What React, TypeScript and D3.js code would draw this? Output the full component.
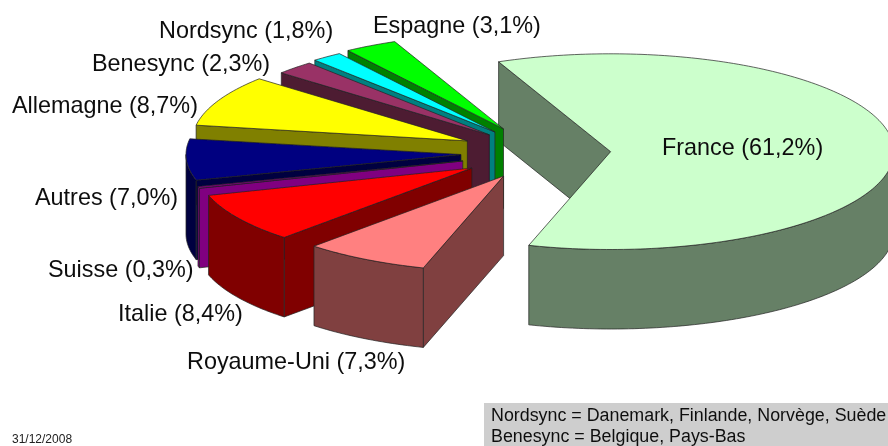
import React from "react";
import * as d3 from "d3";

const categories = ["France", "Royaume-Uni", "Italie", "Suisse", "Autres", "Allemagne", "Benesync", "Nordsync", "Espagne"];
const shares = [61.2, 7.3, 8.4, 0.3, 7.0, 8.7, 2.3, 1.8, 3.1];
const shareLabels = ["61,2%", "7,3%", "8,4%", "0,3%", "7,0%", "8,7%", "2,3%", "1,8%", "3,1%"];
const explode = [0.25, 0.28, 0.3, 0.3, 0.295, 0.3, 0.27, 0.28, 0.29];
const radiusScale = [1.03, 1.01, 1, 1, 1, 1, 1, 1, 1];
const topColors = ["#CCFFCC", "#FF8080", "#FF0000", "#800080", "#000080", "#FFFF00", "#993366", "#00FFFF", "#00FF00"];
const wallColors = ["#668066", "#804040", "#800000", "#800080", "#000040", "#808000", "#4D1A33", "#008080", "#008000"];
const labelAnchors: [number, number, string][] = [
  [662, 154.5, "start"], [187, 368.5, "start"], [118, 320.5, "start"], [48, 277, "start"], [35, 205, "start"],
  [12, 113, "start"], [92, 71, "start"], [159, 38, "start"], [373, 33, "start"],
];
const noteLines = ["Nordsync = Danemark, Finlande, Norvège, Suède", "Benesync = Belgique, Pays-Bas"];
const dateText = "31/12/2008";

const W = 888, H = 446;
const cx = 542, cy = 153, rx = 275, ry = 95, depth = 79.5;
const startAngle = (-23.3 * Math.PI) / 180;

const pieGen = d3.pie<number>().sort(null).startAngle(startAngle).endAngle(startAngle + 2 * Math.PI);
const arcs = pieGen(shares);

const planeX = d3.scaleLinear().domain([-1, 1]).range([-rx, rx]);
const planeY = d3.scaleLinear().domain([-1, 1]).range([-ry, ry]);
const pt = (a: number, ox: number, oy: number, s = 1): [number, number] => [ox + s * planeX(Math.sin(a)), oy + s * planeY(-Math.cos(a))];
const fmt = (p: [number, number]) => `${p[0].toFixed(2)},${p[1].toFixed(2)}`;

function sampleArc(a0: number, a1: number, ox: number, oy: number, s: number) {
  const n = Math.max(2, Math.ceil(Math.abs(a1 - a0) / 0.02));
  return d3.range(n + 1).map((i) => pt(a0 + ((a1 - a0) * i) / n, ox, oy, s));
}

function Slice({ i }: { i: number }) {
  const { startAngle: a0, endAngle: a1 } = arcs[i];
  const s = radiusScale[i];
  const mid = (a0 + a1) / 2;
  const [ox, oy] = pt(mid, 0, 0).map((v) => v * explode[i]);
  const ax = cx + ox, ay = cy + oy;
  const rim = sampleArc(a0, a1, ax, ay, s);
  const topPath = `M${ax},${ay}L${rim.map(fmt).join("L")}Z`;
  const walls: string[] = [];
  if (Math.sin(a0) < 0) {
    const p = pt(a0, ax, ay, s);
    walls.push(`M${ax},${ay}L${fmt(p)}L${p[0]},${p[1] + depth}L${ax},${ay + depth}Z`);
  }
  if (Math.sin(a1) > 0) {
    const p = pt(a1, ax, ay, s);
    walls.push(`M${ax},${ay}L${fmt(p)}L${p[0]},${p[1] + depth}L${ax},${ay + depth}Z`);
  }
  const turnA = Math.PI / 2, turnB = (3 * Math.PI) / 2;
  const lo = Math.max(a0, turnA), hi = Math.min(a1, turnB);
  if (hi > lo) {
    const top = sampleArc(lo, hi, ax, ay, s);
    const bot = top.map(([x, y]) => [x, y + depth] as [number, number]).reverse();
    walls.push(`M${top.map(fmt).join("L")}L${bot.map(fmt).join("L")}Z`);
  }
  return (
    <g stroke="#222" strokeWidth={0.7} strokeLinejoin="round">
      {walls.map((d, k) => <path key={k} d={d} fill={wallColors[i]} />)}
      <path d={topPath} fill={topColors[i]} />
    </g>
  );
}

const drawOrder = [0, 8, 7, 6, 5, 4, 3, 2, 1];

export default function App() {
  return (
    <svg width={W} height={H} viewBox={`0 0 ${W} ${H}`} style={{ position: "absolute", left: 0, top: 0, background: "#fff" }}>
      <defs>
        <filter id="soft" x="-2%" y="-2%" width="104%" height="104%">
          <feGaussianBlur stdDeviation="0.55" />
        </filter>
      </defs>
      <g filter="url(#soft)">
        {drawOrder.map((i) => <Slice key={i} i={i} />)}
        <g fontFamily="'Liberation Sans', Arial, sans-serif" fontSize={23.4} fill="#111">
          {categories.map((c, i) => (
            <text key={c} x={labelAnchors[i][0]} y={labelAnchors[i][1]} textAnchor={labelAnchors[i][2]}>
              {`${c} (${shareLabels[i]})`}
            </text>
          ))}
        </g>
        <rect x={484} y={403} width={410} height={50} fill="#CECECE" />
        <g fontFamily="'Liberation Sans', Arial, sans-serif" fontSize={17.85} fill="#111">
          {noteLines.map((t, i) => <text key={t} x={491} y={420.5 + i * 21.5}>{t}</text>)}
        </g>
        <text x={12} y={443} fontFamily="'Liberation Sans', Arial, sans-serif" fontSize={12} fill="#222">{dateText}</text>
      </g>
    </svg>
  );
}
